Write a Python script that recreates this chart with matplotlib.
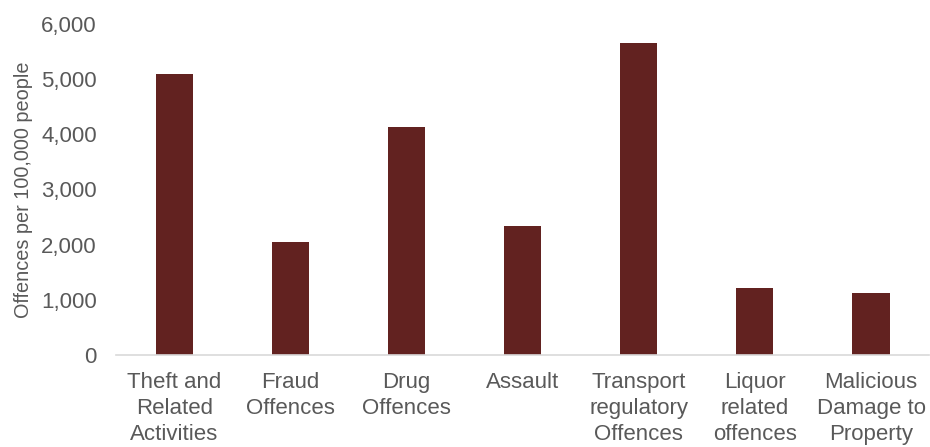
import numpy as np
import matplotlib
matplotlib.use("Agg")
import matplotlib.pyplot as plt
from matplotlib.ticker import FuncFormatter

# Offences per 100,000 people by category
categories = [
    "Theft and\nRelated\nActivities",
    "Fraud\nOffences",
    "Drug\nOffences",
    "Assault",
    "Transport\nregulatory\nOffences",
    "Liquor\nrelated\noffences",
    "Malicious\nDamage to\nProperty",
]
rates = [5090, 2040, 4130, 2330, 5650, 1220, 1120]

plt.rcParams['font.family'] = ['Liberation Sans', 'DejaVu Sans']
grey = '#595959'

fig = plt.figure(figsize=(9.3, 4.47), dpi=100)
ax = fig.add_axes([0.125, 0.206, 0.874, 0.741])

x = np.arange(len(categories))
ax.bar(x, rates, width=0.32, color='#622220')

ax.set_xlim(-0.5, len(categories) - 0.5)
ax.set_ylim(0, 6000)
ax.set_yticks(np.arange(0, 6001, 1000))
ax.yaxis.set_major_formatter(FuncFormatter(lambda v, p: f"{int(v):,}"))
ax.set_xticks(x)
ax.set_xticklabels(categories, linespacing=1.33)

ax.tick_params(axis='y', length=0, pad=14, labelsize=16, labelcolor=grey)
ax.tick_params(axis='x', length=0, pad=12, labelsize=16, labelcolor=grey)

for s in ['top', 'right', 'left']:
    ax.spines[s].set_visible(False)
ax.spines['bottom'].set_color('#d9d9d9')
ax.spines['bottom'].set_linewidth(1.2)

ax.set_ylabel('Offences per 100,000 people', fontsize=14.3, color=grey)
ax.yaxis.set_label_coords(-0.103, 0.5)

fig.savefig('out.png', dpi=100)
